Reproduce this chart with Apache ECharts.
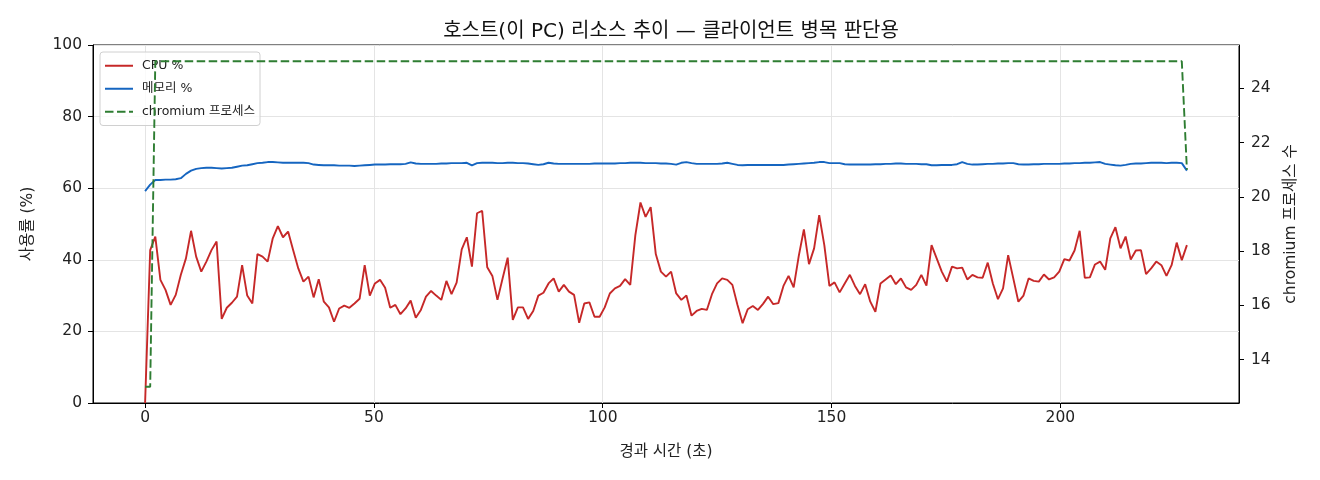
<!DOCTYPE html>
<html>
<head>
<meta charset="utf-8">
<title>호스트 리소스 추이</title>
<script src="https://cdn.jsdelivr.net/npm/echarts@6/dist/echarts.min.js"></script>
<style>
  html, body { margin: 0; padding: 0; background: #fff; }
  #chart { width: 1320px; height: 480px; }
</style>
</head>
<body>
<div id="chart"></div>
<script>
// 샘플 간격 (초) - 마지막 샘플이 약 227.6초
const SAMPLE_SEC = 1.116;

// CPU % (샘플 순서대로)
const cpuPct = [
    0,
    42.7, 46.5, 34.4, 31.6, 27.4, 30.2, 35.8, 40.4, 48.1, 40.9,
    36.7, 39.5, 42.7, 45.1, 23.5, 26.6, 28.0, 29.7, 38.5, 30.0,
    27.8, 41.6, 40.9, 39.5, 46.0, 49.4, 46.3, 47.9,
    42.7, 37.6, 33.9, 35.3, 29.5, 34.6, 28.3, 26.7, 22.7, 26.4,
    27.2, 26.6, 27.8, 29.1, 38.5, 30.0, 33.4, 34.4, 32.2, 26.6,
    27.4, 24.8, 26.4, 28.6, 23.8, 26.0, 29.7, 31.3, 30.0,
    28.8, 34.1, 30.4, 33.6, 42.9, 46.3, 38.1, 53.0, 53.7, 37.9,
    35.5, 28.8, 34.8, 40.6, 23.2, 26.7, 26.7, 23.5, 25.7, 30.0,
    30.8, 33.4, 34.8, 31.1, 33.0, 31.1, 30.2, 22.4,
    27.8, 28.1, 24.1, 24.1, 26.7, 30.6, 32.0, 32.7, 34.6, 33.0,
    46.9, 56.0, 52.0, 54.7, 41.6, 36.7, 35.3, 36.7, 30.6, 28.8,
    30.0, 24.4, 25.7, 26.3, 26.0, 30.4, 33.4, 34.8, 34.4,
    33.0, 27.4, 22.3, 26.2, 27.1, 26.0, 27.7, 29.7, 27.6, 27.9,
    32.7, 35.5, 32.3, 41.1, 48.5, 38.8, 43.2, 52.5, 44.1, 32.7,
    33.7, 30.9, 33.4, 35.8, 32.7, 30.4, 33.2, 28.3, 25.5,
    33.4, 34.5, 35.6, 33.2, 34.8, 32.3, 31.6, 33.0, 35.8, 32.8,
    44.1, 40.4, 36.7, 33.9, 38.1, 37.6, 37.8, 34.5, 35.8, 35.1,
    35.0, 39.2, 33.4, 29.0, 32.0, 41.3, 34.8, 28.3, 30.0, 34.8,
    34.1, 33.9, 35.9, 34.5, 35.1, 36.7, 40.2, 39.8, 42.6, 48.1,
    35.0, 35.1, 38.7, 39.5, 37.2, 46.0, 49.1, 43.2, 46.5, 40.1,
    42.6, 42.7, 36.0, 37.6, 39.5, 38.5, 35.5, 38.5, 44.8, 39.9,
    44.1
];

// 메모리 % (샘플 순서대로)
const memPct = [
    59.2, 61.0, 62.3, 62.3, 62.4, 62.4, 62.5, 62.8, 64.0, 64.9,
    65.4, 65.6, 65.7, 65.7, 65.6, 65.5, 65.6, 65.7, 66.0, 66.3,
    66.4, 66.7, 67.0, 67.1, 67.3, 67.3, 67.2, 67.1, 67.1, 67.1,
    67.1, 67.1, 67.0, 66.6, 66.5, 66.4, 66.4, 66.4, 66.3, 66.3,
    66.3, 66.2, 66.3, 66.4, 66.5, 66.6, 66.6, 66.6, 66.7, 66.7,
    66.7, 66.8, 67.2, 66.9, 66.8, 66.8, 66.8, 66.8, 66.9, 66.9,
    67.0, 67.0, 67.0, 67.1, 66.4, 67.0, 67.1, 67.1, 67.1, 67.0,
    67.0, 67.1, 67.1, 67.0, 67.0, 66.9, 66.7, 66.5, 66.7, 67.1,
    66.9, 66.8, 66.8, 66.8, 66.8, 66.8, 66.8, 66.8, 66.9, 66.9,
    66.9, 66.9, 66.9, 67.0, 67.0, 67.1, 67.1, 67.1, 67.0, 67.0,
    67.0, 66.9, 66.9, 66.8, 66.6, 67.1, 67.3, 67.0, 66.8, 66.8,
    66.8, 66.8, 66.8, 66.9, 67.1, 66.8, 66.5, 66.4, 66.5, 66.5,
    66.5, 66.5, 66.5, 66.5, 66.5, 66.5, 66.6, 66.7, 66.8, 66.9,
    67.0, 67.1, 67.3, 67.3, 67.0, 67.0, 67.0, 66.7, 66.6, 66.6,
    66.6, 66.6, 66.6, 66.7, 66.7, 66.8, 66.8, 66.9, 66.9, 66.8,
    66.8, 66.8, 66.7, 66.7, 66.4, 66.4, 66.5, 66.5, 66.5, 66.7,
    67.3, 66.8, 66.6, 66.6, 66.7, 66.8, 66.8, 66.9, 66.9, 67.0,
    67.0, 66.7, 66.6, 66.6, 66.7, 66.7, 66.8, 66.8, 66.8, 66.8,
    66.9, 66.9, 67.0, 67.0, 67.1, 67.1, 67.2, 67.3, 66.8, 66.6,
    66.4, 66.3, 66.5, 66.8, 66.9, 66.9, 67.0, 67.1, 67.1, 67.1,
    67.0, 67.1, 67.1, 67.0, 64.9
];

// chromium 프로세스 수 - 값이 바뀌는 샘플만 기록
const procSampleIdx = [0, 1, 2, 203, 204];
const procCount = [13, 13, 25, 25, 21];

// 축 눈금
const xTicks = [0, 50, 100, 150, 200];
const rightTicks = [14, 16, 18, 20, 22, 24];

const legendNames = ['CPU %', '메모리 %', 'chromium 프로세스'];

const FONT = '"DejaVu Sans", "Noto Sans CJK KR", sans-serif';

function drawResourceChart() {
    var dom = document.getElementById('chart');
    var myChart = echarts.init(dom, null, { renderer: 'canvas' });

    const lastT = (cpuPct.length - 1) * SAMPLE_SEC;
    const cpuData = cpuPct.map((v, i) => [i * SAMPLE_SEC, v]);
    const memData = memPct.map((v, i) => [i * SAMPLE_SEC, v]);
    const procData = procSampleIdx.map((idx, k) => [idx * SAMPLE_SEC, procCount[k]]);

    const axisText = { color: '#222', fontSize: 15.5, fontFamily: FONT };
    const spine = { show: true, onZero: false, lineStyle: { color: '#000', width: 1 } };
    const tick = { show: true, inside: false, length: 5, lineStyle: { color: '#000', width: 1 } };
    const gridLine = { show: true, lineStyle: { color: '#e4e4e4', width: 1 } };

    var option = {
        animation: false,
        backgroundColor: '#fff',
        title: {
            text: '호스트(이 PC) 리소스 추이 — 클라이언트 병목 판단용',
            left: 666,
            textAlign: 'center',
            top: 17,
            textStyle: { color: '#111', fontSize: 20, fontWeight: 'normal', fontFamily: FONT }
        },
        legend: {
            data: legendNames,
            orient: 'vertical',
            left: 100,
            top: 52,
            itemWidth: 28,
            itemHeight: 14,
            itemGap: 10.5,
            padding: [7.5, 5, 7.5, 4],
            backgroundColor: 'rgba(255,255,255,0.8)',
            borderColor: '#d0d0d0',
            borderWidth: 1,
            borderRadius: 3,
            itemStyle: { color: 'rgba(0,0,0,0)', borderWidth: 0, opacity: 0 },
            textStyle: { color: '#222', fontSize: 12.5, fontFamily: FONT, padding: [0, 0, 0, 4] }
        },
        grid: {
            left: 93, right: 81, top: 45, bottom: 77,
            show: true, borderColor: '#000', borderWidth: 1
        },
        xAxis: {
            type: 'value',
            min: -0.05 * lastT,
            max: 1.05 * lastT,
            name: '경과 시간 (초)',
            nameLocation: 'middle',
            nameGap: 41,
            nameTextStyle: axisText,
            axisLine: spine,
            axisTick: Object.assign({ customValues: xTicks }, tick),
            axisLabel: Object.assign({ customValues: xTicks, margin: 7 }, axisText),
            splitLine: gridLine
        },
        yAxis: [
            {
                type: 'value',
                min: 0,
                max: 100,
                interval: 20,
                name: '사용률 (%)',
                nameLocation: 'middle',
                nameGap: 57,
                nameTextStyle: axisText,
                axisLine: spine,
                axisTick: tick,
                axisLabel: Object.assign({ margin: 11 }, axisText),
                splitLine: gridLine
            },
            {
                type: 'value',
                position: 'right',
                min: 12.4,
                max: 25.6,
                name: 'chromium 프로세스 수',
                nameLocation: 'middle',
                nameGap: 44,
                nameTextStyle: axisText,
                axisLine: spine,
                axisTick: Object.assign({ customValues: rightTicks }, tick),
                axisLabel: Object.assign({ customValues: rightTicks, margin: 12 }, axisText),
                splitLine: { show: false }
            }
        ],
        series: [
            {
                name: legendNames[0],
                type: 'line',
                data: cpuData,
                showSymbol: false,
                symbol: 'none',
                lineStyle: { color: '#c62828', width: 1.9 },
                itemStyle: { color: '#c62828' },
                z: 2
            },
            {
                name: legendNames[1],
                type: 'line',
                data: memData,
                showSymbol: false,
                symbol: 'none',
                lineStyle: { color: '#1565c0', width: 1.9 },
                itemStyle: { color: '#1565c0' },
                z: 3
            },
            {
                name: legendNames[2],
                type: 'line',
                yAxisIndex: 1,
                data: procData,
                showSymbol: false,
                symbol: 'none',
                lineStyle: { color: '#2e7d32', width: 1.9, type: [8.5, 3.5] },
                itemStyle: { color: '#2e7d32' },
                z: 4
            }
        ]
    };

    myChart.setOption(option);
    window.addEventListener('resize', myChart.resize);
}

drawResourceChart();
</script>
</body>
</html>
